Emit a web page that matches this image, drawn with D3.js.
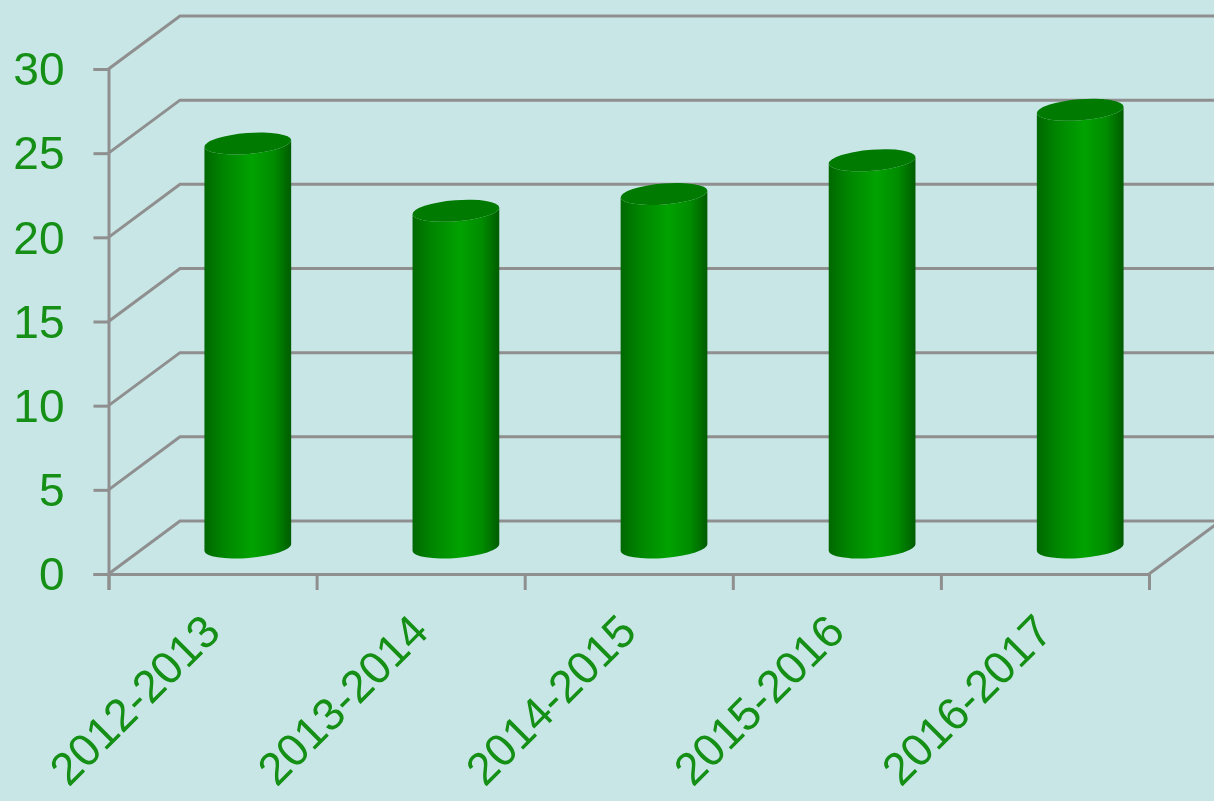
<!DOCTYPE html>
<html>
<head>
<meta charset="utf-8">
<script src="https://cdn.jsdelivr.net/npm/d3@7"></script>
<style>
  html, body { margin: 0; padding: 0; background: #c8e6e6; overflow: hidden; }
  svg { display: block; }
  text { font-family: "Liberation Sans", Arial, sans-serif; }
</style>
</head>
<body>
<div id="chart"></div>
<script>
/* DATA */
const years = ["2012-2013", "2013-2014", "2014-2015", "2015-2016", "2016-2017"];
const values = [24, 20, 21, 23, 26];
const yTicks = [0, 5, 10, 15, 20, 25, 30];

/* LAYOUT */
const width = 1214,
  height = 801,
  margin = {left: 108.5, right: 65, top: 69, bottom: 227};
const depth = {x: 71.5, y: -53}; // offset of the back wall from the front of the floor
const barWidth = 87,
  capRy = 10.5,
  capTilt = -4.5;
const gridColor = "#8f8f8f",
  textColor = "#128f12";

const svg = d3.select("#chart").append("svg")
  .attr("width", width)
  .attr("height", height);

const defs = svg.append("defs");

// soft edge, the reference is a scaled up image
defs.append("filter").attr("id", "soft")
  .append("feGaussianBlur").attr("stdDeviation", 0.6);

const grad = defs.append("linearGradient").attr("id", "barFill")
  .attr("x1", 0).attr("x2", 1).attr("y1", 0).attr("y2", 0);
grad.selectAll("stop")
  .data([[0, "#006800"], [0.22, "#008500"], [0.55, "#00a200"], [0.8, "#008c00"], [1, "#005c00"]])
  .join("stop")
  .attr("offset", d => d[0])
  .attr("stop-color", d => d[1]);

/* SCALES */
const xScale = d3.scaleBand()
  .domain(years)
  .range([margin.left, width - margin.right]);

const yScale = d3.scaleLinear()
  .domain([0, 30])
  .range([height - margin.bottom, margin.top]);

const root = svg.append("g").attr("filter", "url(#soft)");

/* GRID: side wall and back wall */
const lineGen = d3.line();
const x0 = xScale.range()[0],
  x1 = xScale.range()[1];

root.append("g").selectAll("path")
  .data(yTicks)
  .join("path")
  .attr("fill", "none")
  .attr("stroke", gridColor)
  .attr("stroke-width", 3)
  .attr("d", d => lineGen([
    [x0, yScale(d)],
    [x0 + depth.x, yScale(d) + depth.y],
    [width + 10, yScale(d) + depth.y]
  ]));

// right edge of the floor
root.append("path")
  .attr("fill", "none")
  .attr("stroke", gridColor)
  .attr("stroke-width", 3)
  .attr("d", lineGen([
    [x1, yScale(0)],
    [x1 + depth.x, yScale(0) + depth.y]
  ]));

/* AXES */
const yAxis = d3.axisLeft(yScale)
  .tickValues(yTicks)
  .tickSize(15)
  .tickPadding(29);

const yAxisGroup = root.append("g")
  .attr("transform", `translate(${x0}, 0)`)
  .call(yAxis);

const boundScale = d3.scaleLinear()
  .domain([0, years.length])
  .range([x0, x1]);

const xAxis = d3.axisBottom(boundScale)
  .tickValues(d3.range(years.length + 1))
  .tickSize(16)
  .tickFormat("");

const xAxisGroup = root.append("g")
  .attr("transform", `translate(0, ${yScale(0)})`)
  .call(xAxis);

[yAxisGroup, xAxisGroup].forEach(g => {
  g.selectAll("path.domain").attr("stroke", gridColor).attr("stroke-width", 3);
  g.selectAll(".tick line").attr("stroke", gridColor).attr("stroke-width", 3);
});

yAxisGroup.selectAll("text")
  .attr("fill", textColor)
  .attr("y", 1)
  .style("font-size", "46px");

// rotated category labels
const labelAxis = d3.axisBottom(xScale).tickSize(0).tickPadding(0);
const labelGroup = root.append("g")
  .attr("transform", `translate(0, ${yScale(0)})`)
  .call(labelAxis);
labelGroup.select("path.domain").remove();
labelGroup.selectAll("text")
  .attr("fill", textColor)
  .style("font-size", "45.5px")
  .attr("text-anchor", "end")
  .attr("dy", 0)
  .attr("y", 0)
  .attr("transform", "translate(10, 60) rotate(-45)");

/* BARS */
const barCx = d => xScale(d) + xScale.bandwidth() / 2 + depth.x / 2 - 0.5;
const barBase = () => yScale(0) + depth.y / 2;
const barTop = (d, i) => barBase() - (yScale(0) - yScale(values[i]));

// tilted end points of the top and bottom ellipses
const rad = capTilt * Math.PI / 180;
const dx = barWidth / 2 * Math.cos(rad),
  dy = barWidth / 2 * Math.sin(rad);

const bars = root.append("g").selectAll("g")
  .data(years)
  .join("g");

bars.append("path")
  .attr("fill", "url(#barFill)")
  .attr("d", (d, i) => {
    const cx = barCx(d), top = barTop(d, i), base = barBase();
    return `M${cx - dx},${top - dy}`
      + `L${cx - dx},${base - dy}`
      + `A${barWidth / 2},${capRy} ${capTilt} 0 0 ${cx + dx},${base + dy}`
      + `L${cx + dx},${top + dy}`
      + `A${barWidth / 2},${capRy} ${capTilt} 0 1 ${cx - dx},${top - dy}Z`;
  });

bars.append("ellipse")
  .attr("fill", "#007a00")
  .attr("rx", barWidth / 2)
  .attr("ry", capRy)
  .attr("transform", (d, i) => `translate(${barCx(d)}, ${barTop(d, i)}) rotate(${capTilt})`);
</script>
</body>
</html>
